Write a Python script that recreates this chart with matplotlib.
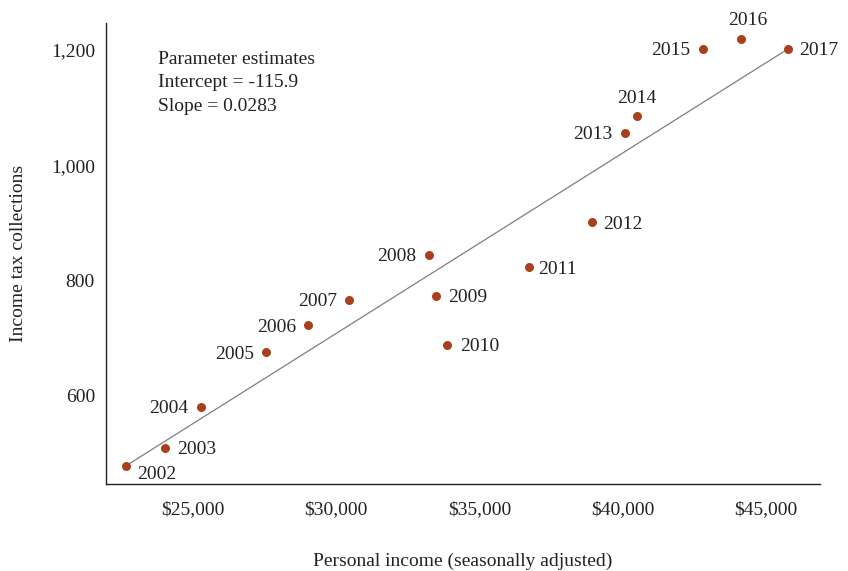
import matplotlib
matplotlib.use("Agg")
import matplotlib.pyplot as plt
from matplotlib.ticker import FuncFormatter

# data
years = [2002, 2003, 2004, 2005, 2006, 2007, 2008, 2009, 2010,
         2011, 2012, 2013, 2014, 2015, 2016, 2017]
income = [22660, 24020, 25280, 27550, 29020, 30450, 33220, 33460, 33870,
          36710, 38920, 40070, 40490, 42800, 44130, 45770]
tax = [479, 510, 581, 676, 723, 767, 845, 774, 689,
       823, 901, 1056, 1085, 1202, 1219, 1202]
intercept = -115.9
slope = 0.0283

# where each year label goes: (dx, dy) in points, ha
label_pos = {
    2002: (8, -5, "left"), 2003: (9, 0, "left"), 2004: (-9, 0, "right"),
    2005: (-9, 0, "right"), 2006: (-9, 0, "right"), 2007: (-9, 0, "right"),
    2008: (-9, 0, "right"), 2009: (9, 0, "left"), 2010: (9, 0, "left"),
    2011: (7, 0, "left"), 2012: (8, 0, "left"), 2013: (-9, 0, "right"),
    2014: (0, 14, "center"), 2015: (-9, 0, "right"), 2016: (5, 15, "center"),
    2017: (8, 0, "left"),
}

plt.rcParams['font.family'] = ['Liberation Serif', 'DejaVu Serif']
fs = 14

fig = plt.figure(figsize=(8.48, 5.71), dpi=100)
ax = fig.add_axes([0.125, 0.152, 0.842, 0.808])

dot = "#a8401e"
# fitted line drawn between the first and last observations
ax.plot([income[0], income[-1]], [tax[0], tax[-1]], color="#7f7f7f", lw=0.9, zorder=1)
ax.scatter(income, tax, s=42, color=dot, zorder=2, linewidths=0)

for yr, x, y in zip(years, income, tax):
    dx, dy, ha = label_pos[yr]
    ax.annotate(str(yr), (x, y), xytext=(dx, dy), textcoords="offset points",
                ha=ha, va="center_baseline", fontsize=fs, color="#222222")

ax.text(0.073, 0.94, "Parameter estimates\nIntercept = %.1f\nSlope = %.4f" % (intercept, slope),
        transform=ax.transAxes, va="top", ha="left", fontsize=fs,
        linespacing=1.5, color="#222222")

ax.set_xlim(21960, 46880)
ax.set_ylim(447, 1247)
ax.set_xticks([25000, 30000, 35000, 40000, 45000])
ax.set_yticks([600, 800, 1000, 1200])
ax.xaxis.set_major_formatter(FuncFormatter(lambda v, p: "${:,.0f}".format(v)))
ax.yaxis.set_major_formatter(FuncFormatter(lambda v, p: "{:,.0f}".format(v)))
ax.tick_params(axis="both", length=0, labelsize=fs, colors="#222222")
ax.tick_params(axis="x", pad=12)
ax.tick_params(axis="y", pad=8)

for s in ["top", "right"]:
    ax.spines[s].set_visible(False)
for s in ["left", "bottom"]:
    ax.spines[s].set_color("#222222")
    ax.spines[s].set_linewidth(1.0)

ax.set_xlabel("Personal income (seasonally adjusted)", fontsize=fs, labelpad=25, color="#222222")
ax.set_ylabel("Income tax collections", fontsize=fs, labelpad=17, color="#222222")

fig.savefig("out.png", dpi=100)
